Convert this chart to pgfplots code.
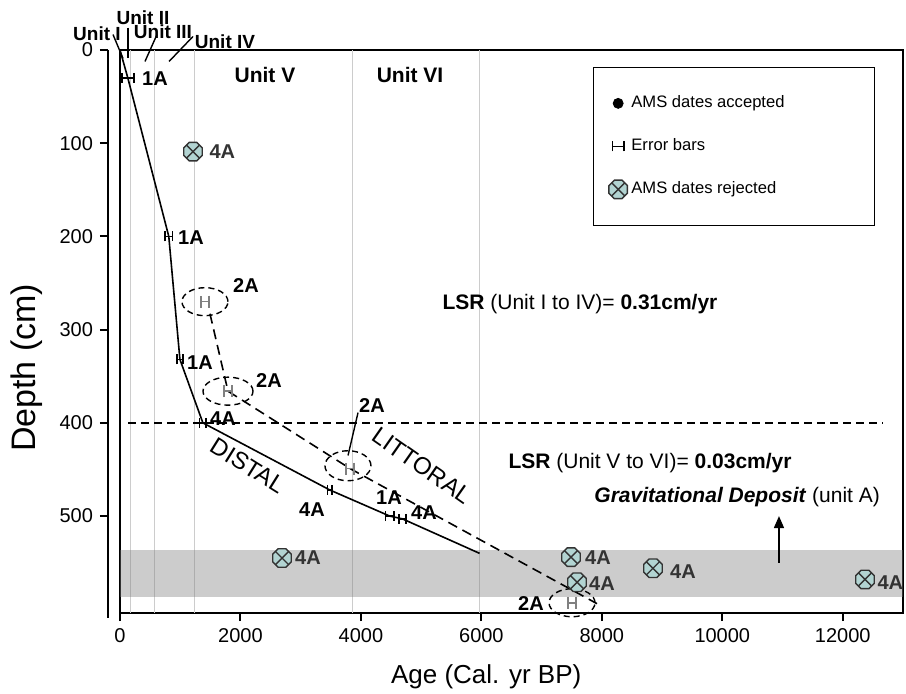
\documentclass[border=0pt]{standalone}
\usepackage{pgfplots}
\pgfplotsset{compat=1.18}
\usepackage{fontspec}
\setmainfont{Liberation Sans}
\usetikzlibrary{arrows.meta}
\definecolor{rej}{RGB}{178,212,210}

\pgfdeclareplotmark{octx}{%
  \pgfpathmoveto{\pgfpointpolar{22.5}{\pgfplotmarksize}}%
  \pgfpathlineto{\pgfpointpolar{67.5}{\pgfplotmarksize}}%
  \pgfpathlineto{\pgfpointpolar{112.5}{\pgfplotmarksize}}%
  \pgfpathlineto{\pgfpointpolar{157.5}{\pgfplotmarksize}}%
  \pgfpathlineto{\pgfpointpolar{202.5}{\pgfplotmarksize}}%
  \pgfpathlineto{\pgfpointpolar{247.5}{\pgfplotmarksize}}%
  \pgfpathlineto{\pgfpointpolar{292.5}{\pgfplotmarksize}}%
  \pgfpathlineto{\pgfpointpolar{337.5}{\pgfplotmarksize}}%
  \pgfpathclose
  \pgfusepathqfillstroke
  \pgfpathmoveto{\pgfpointpolar{45}{0.92\pgfplotmarksize}}%
  \pgfpathlineto{\pgfpointpolar{225}{0.92\pgfplotmarksize}}%
  \pgfpathmoveto{\pgfpointpolar{135}{0.92\pgfplotmarksize}}%
  \pgfpathlineto{\pgfpointpolar{315}{0.92\pgfplotmarksize}}%
  \pgfusepathqstroke
}

\begin{document}
\begin{tikzpicture}
\begin{axis}[
  at={(0,0)}, anchor=south west,
  scale only axis, width=391.5pt, height=281.5pt,
  xmin=0, xmax=13000, ymin=0, ymax=604, y dir=reverse,
  xtick={0,2000,...,12000}, ytick={0,100,...,500},
  xtick pos=bottom, ytick pos=left, tick align=outside,
  major tick length=4pt,
  tick style={black, line width=1pt},
  y tick style={xshift=-6pt},
  yticklabel style={xshift=-6pt},
  scaled x ticks=false,
  /pgf/number format/1000 sep={},
  /pgf/number format/assume math mode=true,
  ticklabel style={font=\fontsize{10}{12}\selectfont},
  axis line style={line width=1pt},
  extra x ticks={170,580,1230,3860,5970},
  extra x tick labels={},
  extra x tick style={grid=major, major tick length=0pt, major grid style={gray!40, line width=0.5pt}},
  clip=false,
  legend cell align=left,
  legend style={at={(axis cs:12535,18.7)}, anchor=north east, draw=black,
    font=\fontsize{8.3}{10}\selectfont, row sep=10pt, inner xsep=8pt, inner ysep=12pt},
]
% legend images
\addlegendimage{only marks, mark=*, mark size=2.5pt, black}
\addlegendentry{AMS dates accepted\hspace*{35pt}}
\addlegendimage{legend image code/.code={%
  \draw[black, line width=0.8pt] (0.2cm,0pt) -- (0.4cm,0pt);
  \draw[black, line width=0.8pt] (0.2cm,-2.5pt) -- (0.2cm,2.5pt);
  \draw[black, line width=0.8pt] (0.4cm,-2.5pt) -- (0.4cm,2.5pt);}}
\addlegendentry{Error bars}
\addlegendimage{only marks, mark=octx, mark size=5pt, mark options={fill=rej, draw=black!80, line width=0.7pt}}
\addlegendentry{AMS dates rejected}

% gravitational deposit band
\addplot[draw=none, fill=gray, fill opacity=0.4, forget plot] coordinates {(0,536) (13000,536) (13000,587) (0,587)} -- cycle;

% horizontal dashed line at 400 cm
\addplot[black, line width=0.8pt, dash pattern=on 4pt off 2.5pt, forget plot] coordinates {(133,400) (12652,400)};

% distal age-depth line
\addplot[black, line width=0.8pt, forget plot] coordinates {(0,0) (130,30) (810,200) (995,332) (1376,400) (3483,472) (4478,500) (4690,503) (5970,540)};

% littoral dashed line
\addplot[black, line width=0.8pt, dash pattern=on 5pt off 3pt, forget plot] coordinates {(1494,283) (1793,366) (3819,449) (7920,594)};

% accepted dates with error bars
\addplot[mark=none, draw=none, forget plot,
  error bars/.cd, x dir=both, x explicit,
  error bar style={draw=black, line width=0.8pt},
  error mark options={draw=black, rotate=90, mark size=2.5pt, line width=0.8pt}]
  coordinates {(130,30) +- (100,0) (810,200) +- (60,0) (995,332) +- (50,0) (1376,400) +- (55,0) (3483,472) +- (35,0) (4478,500) +- (70,0) (4690,503) +- (60,0)};

% 2A dates (grey error bars)
\addplot[mark=none, draw=none, forget plot,
  error bars/.cd, x dir=both, x explicit,
  error bar style={draw=gray, line width=0.8pt},
  error mark options={draw=gray, rotate=90, mark size=3pt, line width=0.8pt}]
  coordinates {(1411,270) +- (70,0) (1793,366) +- (70,0) (3819,449) +- (70,0) (7505,593) +- (70,0)};

% rejected dates
\addplot[only marks, mark=octx, mark size=5pt, forget plot, mark options={fill=rej, draw=black!80, line width=0.7pt}]
  coordinates {(1212,109) (2690,545) (7488,544) (7588,571) (8849,556) (12369,568)};

% ellipses around 2A
\draw[line width=0.7pt, dash pattern=on 3pt off 2pt] (axis cs:1411,270) ellipse [x radius=11.5pt, y radius=7pt];
\draw[line width=0.7pt, dash pattern=on 3pt off 2pt] (axis cs:1793,366) ellipse [x radius=12.5pt, y radius=7pt];
\draw[line width=0.7pt, dash pattern=on 3pt off 2pt] (axis cs:3785,446) ellipse [x radius=11.5pt, y radius=7.5pt];
\draw[line width=0.7pt, dash pattern=on 3pt off 2pt] (axis cs:7505,593) ellipse [x radius=11.5pt, y radius=7pt];

% leader lines
\draw[line width=0.7pt] (axis cs:-116,-16.6) -- (axis cs:50,9.1);
\draw[line width=0.7pt] (axis cs:133,-24) -- (axis cs:133,9);
\draw[line width=0.7pt] (axis cs:614,-16.6) -- (axis cs:415,12.3);
\draw[line width=0.7pt] (axis cs:1212,-14.5) -- (axis cs:814,12.3);
\draw[line width=0.7pt] (axis cs:3952,389) -- (axis cs:3786,435);

% arrow
\draw[line width=0.8pt, -{Triangle[length=6pt,width=5pt]}] (axis cs:10941,550) -- (axis cs:10941,500);

% offset y axis line
\draw[line width=1pt] ([xshift=-6pt]axis cs:0,0) -- ([xshift=-6pt,yshift=-2.5pt]axis cs:0,604);

% unit labels
\begin{scope}[every node/.style={font=\fontsize{9.5}{11}\selectfont\bfseries, inner sep=0pt}]
\node at (axis cs:-382,-17.7) {Unit I};
\node at (axis cs:382,-34.8) {Unit II};
\node at (axis cs:714,-19.8) {Unit III};
\node at (axis cs:1743,-9.1) {Unit IV};
\end{scope}
\node[font=\fontsize{10.5}{12}\selectfont\bfseries] at (axis cs:2407,27) {Unit V};
\node[font=\fontsize{10.5}{12}\selectfont\bfseries] at (axis cs:4815,27) {Unit VI};

% sample labels
\begin{scope}[every node/.style={font=\fontsize{10}{12}\selectfont\bfseries, inner sep=0pt}]
\node at (axis cs:581,30.5) {1A};
\node at (axis cs:1179,201) {1A};
\node at (axis cs:1328,335) {1A};
\node at (axis cs:1710,395) {4A};
\node at (axis cs:2092,253) {2A};
\node at (axis cs:2474,355) {2A};
\node at (axis cs:4184,381) {2A};
\node at (axis cs:3188,493) {4A};
\node at (axis cs:4466,480) {1A};
\node at (axis cs:5047,496) {4A};
\node at (axis cs:6824,594) {2A};
\end{scope}
\begin{scope}[every node/.style={font=\fontsize{10}{12}\selectfont\bfseries, inner sep=0pt, text=black!80}]
\node at (axis cs:1700,109) {4A};
\node at (axis cs:3121,545) {4A};
\node at (axis cs:7936,545) {4A};
\node at (axis cs:8003,572) {4A};
\node at (axis cs:9347,560) {4A};
\node at (axis cs:12790,571) {4A};
\end{scope}

% DISTAL / LITTORAL
\node[font=\fontsize{12}{14}\selectfont, rotate=-32] at (axis cs:2125,446) {DISTAL};
\node[font=\fontsize{12}{14}\selectfont, rotate=-35] at (axis cs:5014,446) {LITTORAL};

% LSR text
\node[font=\fontsize{10.5}{12}\selectfont] at (axis cs:7637,273) {\textbf{LSR} (Unit I to IV)= \textbf{0.31cm/yr}};
\node[font=\fontsize{10.5}{12}\selectfont] at (axis cs:8800,443) {\textbf{LSR} (Unit V to VI)= \textbf{0.03cm/yr}};
\node[font=\fontsize{10.5}{12}\selectfont, anchor=east] at (axis cs:12734,480) {\textbf{\itshape Gravitational Deposit} (unit A)};

% axis labels
\node[font=\fontsize{17}{19}\selectfont, rotate=90] at (axis cs:-1544,341) {Depth (cm)};
\node[font=\fontsize{13}{15}\selectfont] at (axis cs:6080,672) {Age (Cal. yr BP)};
\end{axis}
\pgfresetboundingbox
\path (-60pt,-40pt) rectangle (393pt,306.5pt);
\end{tikzpicture}
\end{document}
